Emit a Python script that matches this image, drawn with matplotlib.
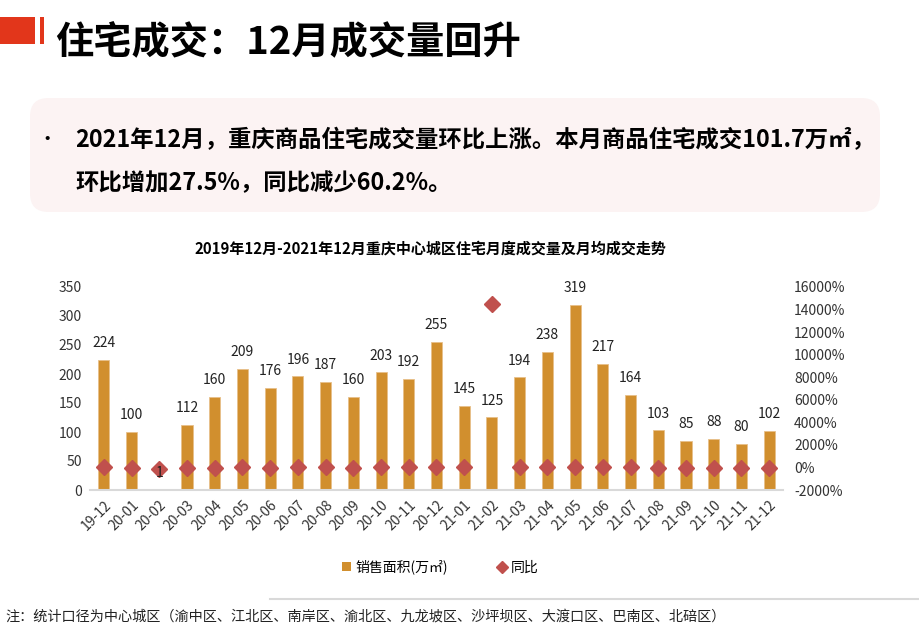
import matplotlib
matplotlib.use("Agg")
import matplotlib.pyplot as plt
from matplotlib.patches import FancyBboxPatch, Rectangle
from matplotlib.ticker import FuncFormatter, MultipleLocator

plt.rcParams['font.family'] = ['Noto Sans CJK SC', 'DejaVu Sans']

months = ["19-12", "20-01", "20-02", "20-03", "20-04", "20-05", "20-06", "20-07",
          "20-08", "20-09", "20-10", "20-11", "20-12", "21-01", "21-02", "21-03",
          "21-04", "21-05", "21-06", "21-07", "21-08", "21-09", "21-10", "21-11", "21-12"]
sales_area = [224, 100, 1, 112, 160, 209, 176, 196, 187, 160, 203, 192, 255,
              145, 125, 194, 238, 319, 217, 164, 103, 85, 88, 80, 102]
yoy_pct = [10, -20, -99, -45, -10, 20, -5, 5, 10, -10, 15, 10, 14,
           45, 14500, 73, 49, 53, 23, 2.5, -36, -64, -57, -58, -60]

title = "住宅成交：12月成交量回升"
bullet_line1 = "2021年12月，重庆商品住宅成交量环比上涨。本月商品住宅成交101.7万㎡，"
bullet_line2 = "环比增加27.5%，同比减少60.2%。"
chart_title = "2019年12月-2021年12月重庆中心城区住宅月度成交量及月均成交走势"
legend_labels = ["销售面积(万㎡)", "同比"]
footnote = "注：统计口径为中心城区（渝中区、江北区、南岸区、渝北区、九龙坡区、沙坪坝区、大渡口区、巴南区、北碚区）"

bar_color = "#D18F2E"
dia_color = "#C0504D"

fig = plt.figure(figsize=(9.2, 6.31), dpi=100)
fig.patch.set_facecolor("white")

# header decoration
fig.patches.append(Rectangle((0, 1 - 44/631), 35/920, 27/631, transform=fig.transFigure,
                             facecolor="#E2361B", edgecolor="none"))
fig.patches.append(Rectangle((40/920, 1 - 44/631), 4/920, 27/631, transform=fig.transFigure,
                             facecolor="#E2361B", edgecolor="none"))
fig.text(55/920, 1 - 42/631, title, fontsize=27.5, fontweight="bold", va="center", ha="left",
         color="black")

# pink rounded box
fig.patches.append(FancyBboxPatch((30/920, 1 - 212/631), 850/920, 114/631,
                                  boxstyle="round,pad=0,rounding_size=0.02",
                                  transform=fig.transFigure, facecolor="#FCF3F3",
                                  edgecolor="none", mutation_aspect=920/631))
fig.text(47/920, 1 - 140/631, "•", fontsize=14, va="center", ha="center")
fig.text(75/920, 1 - 140/631, bullet_line1, fontsize=16.8, fontweight="bold", va="center", ha="left")
fig.text(75/920, 1 - 183/631, bullet_line2, fontsize=16.8, fontweight="bold", va="center", ha="left")

# chart
ax = fig.add_axes([90/920, 1 - 490/631, 693/920, 203/631])
x = list(range(len(months)))
ax.bar(x, sales_area, width=0.4, color=bar_color, edgecolor="#E8C08A", linewidth=0.6, zorder=2)
ax.set_xlim(-0.5, len(months) - 0.5)
ax.set_ylim(0, 350)
ax.yaxis.set_major_locator(MultipleLocator(50))
ax.set_xticks(x)
ax.set_xticklabels(months, rotation=45, ha="right", rotation_mode="anchor", fontsize=10, color="#333333")
ax.tick_params(axis="both", length=0, labelsize=10, colors="#333333", pad=6)
for s in ["top", "right", "left"]:
    ax.spines[s].set_visible(False)
ax.spines["bottom"].set_color("#D9D9D9")
ax.spines["bottom"].set_linewidth(1.5)

ax2 = ax.twinx()
ax2.plot(x, yoy_pct, linestyle="none", marker="D", markersize=8, color=dia_color, zorder=4)
ax2.set_ylim(-2000, 16000)
ax2.yaxis.set_major_locator(MultipleLocator(2000))
ax2.yaxis.set_major_formatter(FuncFormatter(lambda v, p: f"{v:.0f}%"))
ax2.tick_params(axis="y", length=0, labelsize=10, colors="#333333", pad=8)
for s in ["top", "right", "left", "bottom"]:
    ax2.spines[s].set_visible(False)

# data labels drawn on top of markers
for xi, v in zip(x, sales_area):
    ax2.annotate(f"{v}", (xi, v), xycoords=ax.transData, xytext=(0, 7), textcoords="offset points",
                 ha="center", va="bottom", fontsize=10, color="#222222", zorder=6)

fig.text(430/920, 1 - 249/631, chart_title, fontsize=10.8, fontweight="bold", ha="center", va="center")

# legend
h1 = Rectangle((0, 0), 1, 1, facecolor=bar_color)
h2 = plt.Line2D([], [], linestyle="none", marker="D", markersize=6, color=dia_color)
fig.legend([h1, h2], legend_labels, loc="center", bbox_to_anchor=(440/920, 1 - 567/631),
           ncol=2, frameon=False, fontsize=10, handlelength=0.7, handletextpad=0.3,
           columnspacing=3.5)

# footnote
fig.add_artist(plt.Line2D([270/920, 1], [1 - 599/631, 1 - 599/631], transform=fig.transFigure,
                          color="#D9D9D9", linewidth=1.5))
fig.text(5/920, 1 - 617/631, footnote, fontsize=10.2, ha="left", va="center", color="#222222")

fig.savefig("out.png", dpi=100)
